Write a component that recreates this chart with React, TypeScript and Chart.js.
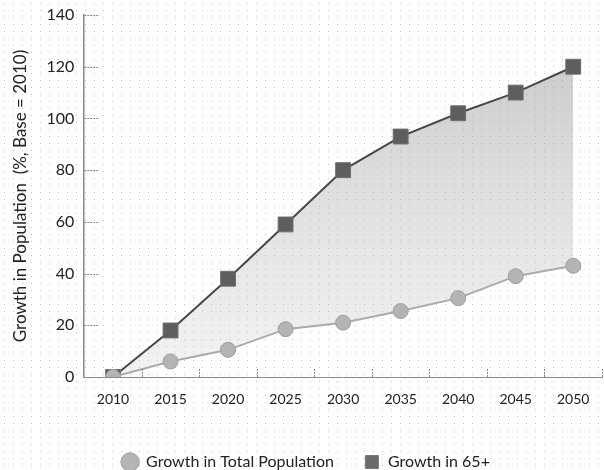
import React, { useEffect, useRef } from "react";
import { Chart, registerables } from "chart.js";
Chart.register(...registerables);

const years = ["2010", "2015", "2020", "2025", "2030", "2035", "2040", "2045", "2050"];
const totalGrowth = [0, 6, 10.5, 18.5, 21, 25.5, 30.5, 39, 43];
const growth65 = [0, 18, 38, 59, 80, 93, 102, 110, 120];
const yTicks = [0, 20, 40, 60, 80, 100, 120, 140];
const seriesNames = ["Growth in Total Population", "Growth in 65+"];

const FONT = "Lato, 'Open Sans', sans-serif";

const insideTicks = {
  id: "insideTicks",
  afterDatasetsDraw(chart: any) {
    const { ctx, chartArea, scales } = chart;
    const x = scales.x;
    const y = scales.y;
    ctx.save();
    ctx.strokeStyle = "#8a8a8a";
    ctx.lineWidth = 1;
    ctx.setLineDash([2, 1]);
    yTicks.forEach((v) => {
      if (v === 0) return;
      const py = Math.round(y.getPixelForValue(v)) + 0.5;
      ctx.beginPath();
      ctx.moveTo(chartArea.left, py);
      ctx.lineTo(chartArea.left + 14, py);
      ctx.stroke();
    });
    for (let i = 0; i < years.length; i++) {
      const a = x.getPixelForValue(i);
      const b = i + 1 < years.length ? x.getPixelForValue(i + 1) : a + (a - x.getPixelForValue(i - 1));
      const px = Math.round((a + b) / 2) + 0.5;
      ctx.beginPath();
      ctx.moveTo(px, chartArea.bottom);
      ctx.lineTo(px, chartArea.bottom - 8);
      ctx.stroke();
    }
    ctx.restore();
  },
};

export default function App() {
  const ref = useRef<HTMLCanvasElement>(null);
  useEffect(() => {
    if (!ref.current) return;
    const chart = new Chart(ref.current, {
      type: "line",
      data: {
        labels: years,
        datasets: [
          {
            label: seriesNames[0],
            data: totalGrowth,
            borderColor: "#ababab",
            borderWidth: 2,
            backgroundColor: "#b0b0b0",
            pointBackgroundColor: "#b4b4b4",
            pointBorderColor: "#9e9e9e",
            pointBorderWidth: 1,
            pointStyle: "circle",
            pointRadius: 7.5,
            fill: false,
            tension: 0,
          },
          {
            label: seriesNames[1],
            data: growth65,
            borderColor: "#474747",
            borderWidth: 2,
            pointBackgroundColor: "#5e5e5e",
            pointBorderColor: "#6e6e6e",
            pointBorderWidth: 1,
            pointStyle: "rect",
            pointRadius: 10.5,
            fill: { target: 0 },
            backgroundColor: (c: any) => {
              const ca = c.chart.chartArea;
              if (!ca) return "rgba(170,170,170,0.4)";
              const g = c.chart.ctx.createLinearGradient(0, ca.top + 40, 0, ca.bottom);
              g.addColorStop(0, "rgba(160,160,160,0.55)");
              g.addColorStop(1, "rgba(205,205,205,0.25)");
              return g;
            },
            tension: 0,
          },
        ],
      },
      options: {
        animation: false,
        responsive: false,
        layout: { autoPadding: false, padding: { left: 10, top: 15, right: 2, bottom: -10 } },
        plugins: {
          legend: {
            position: "bottom",
            labels: {
              usePointStyle: true,
              color: "#222",
              font: { family: FONT, size: 16 },
              padding: 30,
              boxWidth: 18,
              boxHeight: 13,
              generateLabels: (ch: any) =>
                ch.data.datasets.map((d: any, i: number) => ({
                  text: d.label,
                  fillStyle: i === 0 ? "#b4b4b4" : "#6a6a6a",
                  strokeStyle: i === 0 ? "#9e9e9e" : "#777",
                  lineWidth: 1,
                  pointStyle: i === 0 ? "circle" : "rect",
                  datasetIndex: i,
                  fontColor: "#222",
                })),
            },
          },
          tooltip: { enabled: false },
        },
        scales: {
          x: {
            offset: true,
            grid: { display: false, drawTicks: false },
            border: { display: true, color: "#8a8a8a", dash: [2, 1], width: 1 },
            ticks: { color: "#222", font: { family: FONT, size: 14 }, padding: 14 },
            afterFit: (s: any) => {
              s.height = 47;
            },
          },
          y: {
            min: 0,
            max: 140,
            grid: { display: false, drawTicks: false },
            border: { display: true, color: "#888", width: 1.5 },
            ticks: { stepSize: 20, color: "#222", font: { family: FONT, size: 16 }, padding: 10 },
            title: {
              display: true,
              text: "Growth in Population  (%, Base = 2010)",
              color: "#222",
              font: { family: FONT, size: 17 },
              padding: { top: 0, bottom: 6 },
            },
            afterFit: (s: any) => {
              s.paddingTop = 0;
              s.paddingBottom = 0;
            },
          },
        },
      },
      plugins: [insideTicks],
    });
    return () => chart.destroy();
  }, []);
  return (
    <div
      style={{
        position: "absolute",
        left: 0,
        top: 0,
        width: 604,
        height: 470,
        background: "#fff",
        backgroundImage: "radial-gradient(circle, #c4c4c4 0.7px, transparent 0.9px)",
        backgroundSize: "9px 7px",
      }}
    >
      <canvas ref={ref} width={604} height={470} />
    </div>
  );
}
